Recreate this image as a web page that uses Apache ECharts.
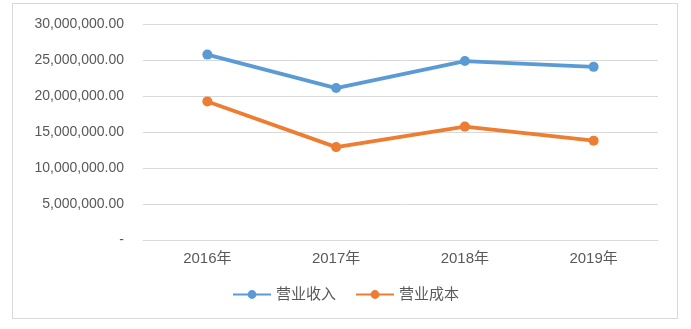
<!DOCTYPE html>
<html><head><meta charset="utf-8">
<script src="https://cdn.jsdelivr.net/npm/echarts@6/dist/echarts.min.js"></script>
<style>html,body{margin:0;padding:0;background:#fff;}#frame{position:absolute;left:12px;top:3px;width:666px;height:316px;border:1px solid #d9d9d9;box-sizing:border-box;}#c{width:691px;height:329px;position:absolute;left:0;top:0;}</style>
</head><body>
<div id="frame"></div>
<div id="c"></div>
<script>
const categories = ['2016年', '2017年', '2018年', '2019年'];
const revenue = [25750000, 21100000, 24850000, 24050000];
const cost = [19250000, 12900000, 15750000, 13800000];
const seriesNames = ['营业收入', '营业成本'];
const yTicks = { min: 0, max: 30000000, interval: 5000000 };

const chart = echarts.init(document.getElementById('c'), null, { renderer: 'canvas' });
const fmt = v => v === 0 ? '-' : v.toLocaleString('en-US', { minimumFractionDigits: 2, maximumFractionDigits: 2 });
const font = '"Liberation Sans", "Noto Sans CJK SC", sans-serif';
chart.setOption({
  animation: false,
  backgroundColor: 'transparent',
  grid: { left: 143, right: 33, top: 24, bottom: 89 },
  legend: {
    data: seriesNames, bottom: 22, left: 'center', itemWidth: 38, itemHeight: 11, itemGap: 19,
    textStyle: { color: '#595959', fontSize: 15, fontFamily: font }
  },
  xAxis: {
    type: 'category', data: categories, boundaryGap: true,
    axisLine: { show: true, lineStyle: { color: '#d9d9d9', width: 1 } },
    axisTick: { show: false },
    axisLabel: { color: '#595959', fontSize: 15, fontFamily: font, margin: 11 }
  },
  yAxis: {
    type: 'value', min: yTicks.min, max: yTicks.max, interval: yTicks.interval,
    axisLine: { show: false }, axisTick: { show: false },
    splitLine: { lineStyle: { color: '#d9d9d9', width: 1 } },
    axisLabel: { color: '#595959', fontSize: 14, fontFamily: font, margin: 19, formatter: fmt }
  },
  series: [
    { name: seriesNames[0], type: 'line', data: revenue, symbol: 'circle', symbolSize: 10,
      lineStyle: { width: 3.75, color: '#5b9bd5' }, itemStyle: { color: '#5b9bd5' } },
    { name: seriesNames[1], type: 'line', data: cost, symbol: 'circle', symbolSize: 10,
      lineStyle: { width: 3.75, color: '#ed7d31' }, itemStyle: { color: '#ed7d31' } }
  ]
});
</script>
</body></html>
